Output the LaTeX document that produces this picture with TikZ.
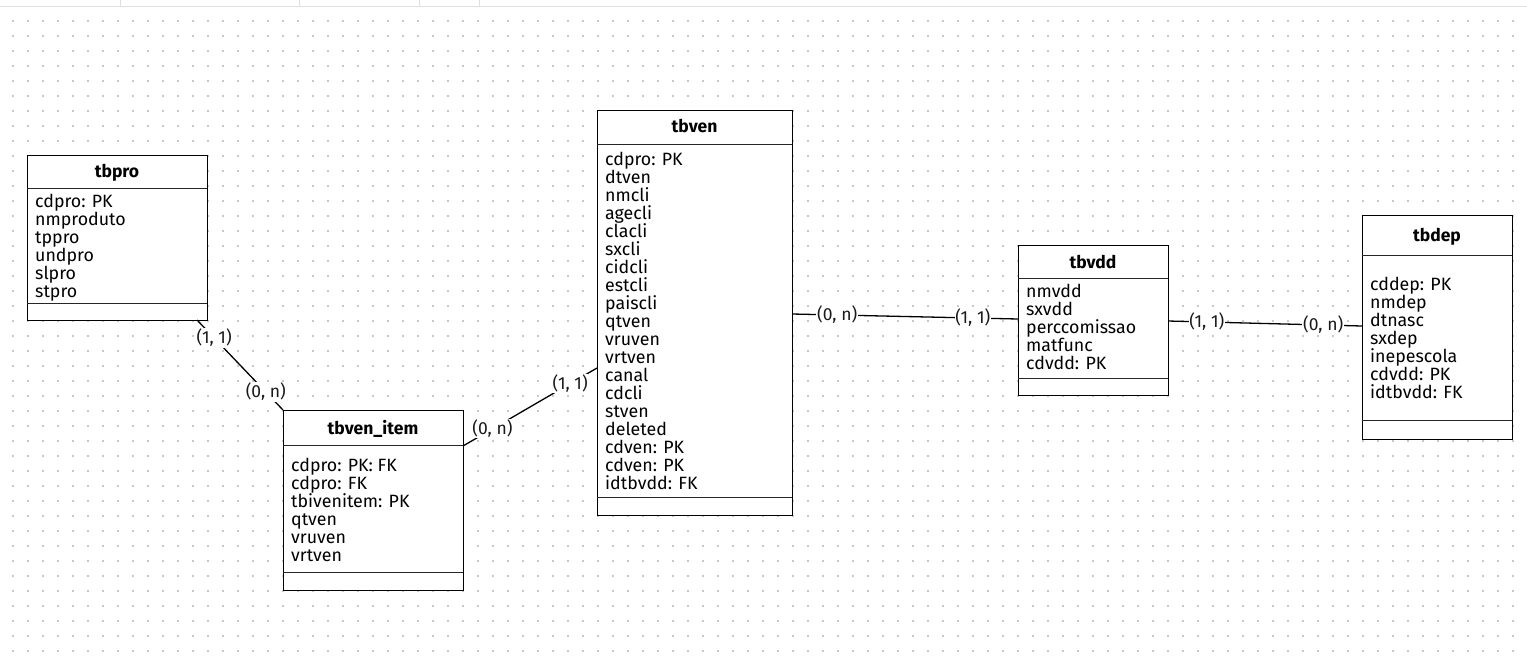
\documentclass[tikz,border=0pt]{standalone}
\usepackage{fontspec}
\setmainfont{Fira Sans}
\usetikzlibrary{calc}

\definecolor{griddot}{HTML}{C8C8C8}
\definecolor{barline}{HTML}{E0E0E0}

\tikzset{
  tablebox/.style={draw=black, fill=white, line width=1pt, inner sep=0pt, outer sep=0pt, anchor=north west},
  divider/.style={draw=black!85, line width=1pt},
  tabletitle/.style={font=\fontsize{17.5}{18}\selectfont\bfseries, anchor=base, inner sep=0pt},
  attr/.style={font=\fontsize{17.8}{18}\selectfont, anchor=base west, inner sep=0pt},
  link/.style={draw=black, line width=1.3pt},
  card/.style={font=\fontsize{17.5}{18}\selectfont, fill=white, inner sep=0.8pt, text=black!90},
}

% entity box: name, left, top, right, bottom, header rule y, body rule y, title baseline, title
\newcommand\erentity[9]{%
  \node[tablebox, minimum width={#4pt-#2pt}, minimum height={#5pt-#3pt}] (#1) at (#2,#3) {};
  \draw[divider] (#1.west |- 0,#6) -- (#1.east |- 0,#6);
  \draw[divider] (#1.west |- 0,#7) -- (#1.east |- 0,#7);
  \node[tabletitle] (#1-title) at ({(#2+#4)/2},#8) {#9};
}
% attribute list: name, x, first baseline, items
\newcommand\erattrs[4]{%
  \foreach \a [count=\i] in {#4}
    \node[attr] (#1-a\i) at (#2,{#3+18*(\i-1)}) {\a};
}

\begin{document}
\begin{tikzpicture}[x=1pt, y=-1pt]
  \useasboundingbox (0,0) rectangle (1527,659);
  \fill[white] (0,0) rectangle (1527,659);

  % tab strip at the top
  \draw[barline, line width=1pt] (0,6) -- (1527,6);
  \foreach \sx in {120,299,419,479}
    \draw[barline, line width=1pt] (\sx,0) -- (\sx,6);

  % dotted canvas grid
  \foreach \i in {0,...,100}
    \foreach \j in {0,...,42}
      \fill[griddot] ({13+15*\i-0.8},{21+15*\j-0.8}) rectangle ++(1.6,1.6);

  % entities
  \erentity{tbpro}{27}{155}{207}{320}{188}{303}{177}{tbpro}
  \erattrs{tbpro}{35}{207}{cdpro: PK,nmproduto,tppro,undpro,slpro,stpro}

  \erentity{tbitem}{283}{410}{463}{590}{445}{572}{434}{tbven\_item}
  \erattrs{tbitem}{291}{471}{cdpro: PK: FK,cdpro: FK,tbivenitem: PK,qtven,vruven,vrtven}

  \erentity{tbven}{597}{110}{792}{515}{144}{497}{132}{tbven}
  \erattrs{tbven}{605}{165}{cdpro: PK,dtven,nmcli,agecli,clacli,sxcli,cidcli,estcli,paiscli,qtven,vruven,vrtven,canal,cdcli,stven,deleted,cdven: PK,cdven: PK,idtbvdd: FK}

  \erentity{tbvdd}{1018}{245}{1168}{395}{278}{378}{268}{tbvdd}
  \erattrs{tbvdd}{1026}{297}{nmvdd,sxvdd,perccomissao,matfunc,cdvdd: PK}

  \erentity{tbdep}{1362}{215}{1512}{439}{255}{420}{241}{tbdep}
  \erattrs{tbdep}{1370}{290}{cddep: PK,nmdep,dtnasc,sxdep,inepescola,cdvdd: PK,idtbvdd: FK}

  % relationships with cardinalities
  \draw[link] ([xshift=-10pt]tbpro.south east) -- (tbitem.north west)
    node[card, pos=0.2] (r1a) {(1, 1)}
    node[card, pos=0.8] (r1b) {(0, n)};
  \draw[link] ([yshift=-36pt]tbitem.north east) -- ([yshift=-258pt]tbven.north west)
    node[card, pos=0.22] (r2a) {(0, n)}
    node[card, pos=0.8] (r2b) {(1, 1)};
  \draw[link] ([yshift=-204pt]tbven.north east) -- ([yshift=-74pt]tbvdd.north west)
    node[card, pos=0.2] (r3a) {(0, n)}
    node[card, pos=0.8] (r3b) {(1, 1)};
  \draw[link] ([yshift=-76pt]tbvdd.north east) -- ([yshift=-111pt]tbdep.north west)
    node[card, pos=0.2] (r4a) {(1, 1)}
    node[card, pos=0.8] (r4b) {(0, n)};
\end{tikzpicture}
\end{document}
